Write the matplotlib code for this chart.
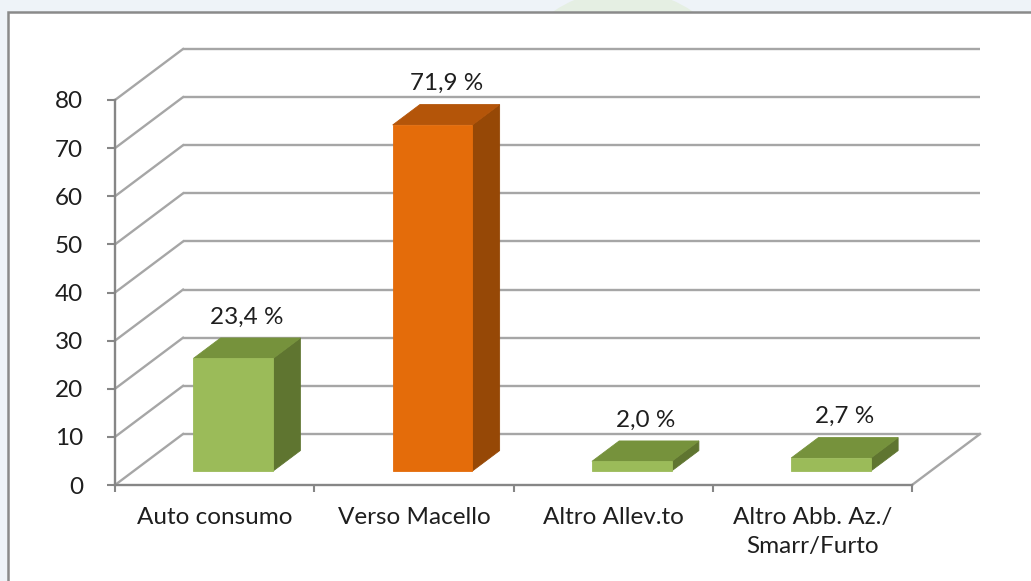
import matplotlib
matplotlib.use("Agg")
import matplotlib.pyplot as plt
from matplotlib.patches import Polygon, Rectangle, Ellipse

# --- data -------------------------------------------------------------
categories = ["Auto consumo", "Verso Macello", "Altro Allev.to",
              "Altro Abb. Az./\nSmarr/Furto"]
values = [23.4, 71.9, 2.0, 2.7]
value_labels = ["23,4 %", "71,9 %", "2,0 %", "2,7 %"]
y_ticks = [0, 10, 20, 30, 40, 50, 60, 70, 80]

# --- style ------------------------------------------------------------
W, H = 1031, 581
FONT = ["Lato", "DejaVu Sans"]
FS = 17.5
TEXT = "#1e1e1e"
GRID = "#a6a6a6"
AXIS = "#868686"
face_colors = {
    "green": ("#9bbb59", "#76923c", "#5f7530"),
    "orange": ("#e46c0a", "#b45509", "#964806"),
}
bar_colors = ["green", "orange", "green", "green"]

plt.rcParams["font.family"] = FONT

fig = plt.figure(figsize=(W / 100, H / 100), dpi=100)
fig.patch.set_facecolor("#eef3f8")

# faint decorative disc behind the chart panel
fig.add_artist(Ellipse((623 / W, 1 - 114 / H), 2 * 124 / W, 2 * 124 / H,
                       transform=fig.transFigure, facecolor="#e5efe3",
                       edgecolor="none", zorder=0))
# white chart panel with grey border
fig.add_artist(Rectangle((8 / W, -0.05), 1.2, 1 - 12 / H + 0.05,
                         transform=fig.transFigure, facecolor="white",
                         edgecolor="#8a8a8a", lw=1.8, zorder=1))

ax = fig.add_axes([115 / W, 96 / H, 797 / W, 385 / H])
ax.set_zorder(2)
ax.patch.set_visible(False)
n = len(categories)
ax.set_xlim(0, n)
ax.set_ylim(0, max(y_ticks))

# oblique depth vector, in data units (category units, value units)
DX = 68 / (797 / n)
DY = 51 / (385 / max(y_ticks))


def proj(x, v, d):
    return (x + d * DX, v + d * DY)


# back wall gridlines and side wall diagonals
for v in y_ticks:
    p0, p1 = proj(0, v, 1), proj(n, v, 1)
    ax.plot([p0[0], p1[0]], [p0[1], p1[1]], color=GRID, lw=1.7,
            clip_on=False, zorder=1, solid_capstyle="butt")
    q0 = proj(0, v, 0)
    ax.plot([q0[0], p0[0]], [q0[1], p0[1]], color=GRID, lw=1.7,
            clip_on=False, zorder=1)
# right edge of the floor
r0, r1 = proj(n, 0, 0), proj(n, 0, 1)
ax.plot([r0[0], r1[0]], [r0[1], r1[1]], color=GRID, lw=1.7,
        clip_on=False, zorder=1)

# 3-D bars
HALF = 0.2
D0, D1 = 0.275, 0.675
for i, (v, key) in enumerate(zip(values, bar_colors)):
    c = i + 0.5
    front, top, side = face_colors[key]
    xl, xr = c - HALF, c + HALF
    front_pts = [proj(xl, 0, D0), proj(xr, 0, D0), proj(xr, v, D0), proj(xl, v, D0)]
    top_pts = [proj(xl, v, D0), proj(xr, v, D0), proj(xr, v, D1), proj(xl, v, D1)]
    side_pts = [proj(xr, 0, D0), proj(xr, 0, D1), proj(xr, v, D1), proj(xr, v, D0)]
    for pts, col in ((side_pts, side), (top_pts, top), (front_pts, front)):
        ax.add_patch(Polygon(pts, closed=True, facecolor=col, edgecolor=col,
                             lw=0.6, clip_on=False, zorder=3))
    lx, ly = proj(c, v, (D0 + D1) / 2)
    ax.annotate(value_labels[i], (lx, proj(c, v, D1)[1]), xytext=(0, 21),
                textcoords="offset pixels", ha="center", va="center",
                fontsize=FS, color=TEXT, zorder=4, annotation_clip=False)

# axes: spines, ticks and labels
for s in ("top", "right"):
    ax.spines[s].set_visible(False)
for s in ("left", "bottom"):
    ax.spines[s].set_color(AXIS)
    ax.spines[s].set_linewidth(1.7)
    ax.spines[s].set_zorder(2)

ax.set_yticks(y_ticks)
ax.set_yticklabels([str(t) for t in y_ticks])
ax.tick_params(axis="y", direction="out", length=6, width=1.5, color=AXIS,
               pad=17, labelsize=FS, labelcolor=TEXT)

ax.set_xticks(range(n + 1))
ax.set_xticklabels([""] * (n + 1))
ax.tick_params(axis="x", which="major", direction="out", length=5,
               width=1.5, color=AXIS)
ax.set_xticks([i + 0.5 for i in range(n)], minor=True)
ax.set_xticklabels(categories, minor=True, linespacing=1.45)
ax.tick_params(axis="x", which="minor", length=0, pad=16, labelsize=FS,
               labelcolor=TEXT)

fig.savefig("out.png", dpi=100, facecolor=fig.get_facecolor())
